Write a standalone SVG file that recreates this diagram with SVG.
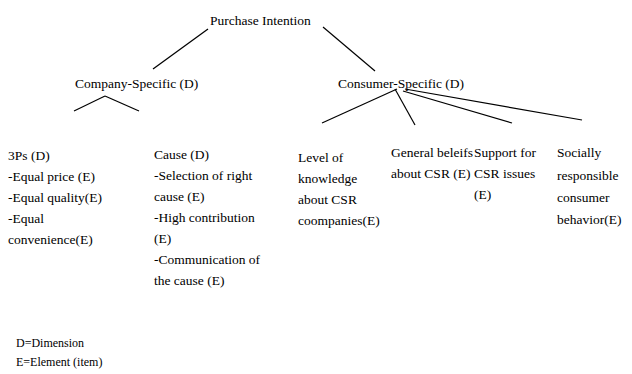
<svg xmlns="http://www.w3.org/2000/svg" width="632" height="374" viewBox="0 0 632 374">
<style>
.t text{font-size:13.5px;fill:#000}
.t .leg{font-size:12px}
.c line{stroke:#000;stroke-width:1.2}
</style>
<rect width="632" height="374" fill="#fff"/>
<g class="c" id="connectors">
<line x1="208" y1="29" x2="153" y2="69"/>
<line x1="323" y1="27" x2="375" y2="71"/>
<line x1="105" y1="96" x2="74" y2="111"/>
<line x1="105" y1="96" x2="139" y2="111"/>
<line x1="397" y1="89" x2="322" y2="123"/>
<line x1="395" y1="89" x2="415" y2="125"/>
<line x1="403" y1="91" x2="512" y2="123"/>
<line x1="405" y1="89" x2="582" y2="120"/>
</g>
<g class="t" font-family="'Liberation Serif', 'Times New Roman', Times, serif">
<g id="purchase"><text x="210" y="25">Purchase Intention</text></g>
<g id="company"><text x="75" y="88">Company-Specific (D)</text></g>
<g id="consumer"><text x="338" y="88">Consumer-Specific (D)</text></g>
<g id="threeps"><text x="8" y="160">3Ps (D)</text><text x="8" y="181">-Equal price (E)</text><text x="8" y="202">-Equal quality(E)</text><text x="8" y="223">-Equal</text><text x="8" y="244">convenience(E)</text></g>
<g id="cause"><text x="154" y="159">Cause (D)</text><text x="154" y="180">-Selection of right</text><text x="154" y="201">cause (E)</text><text x="154" y="222">-High contribution</text><text x="154" y="243">(E)</text><text x="154" y="264">-Communication of</text><text x="154" y="285">the cause (E)</text></g>
<g id="level"><text x="298" y="162">Level of</text><text x="298" y="183">knowledge</text><text x="298" y="204">about CSR</text><text x="298" y="225">coompanies(E)</text></g>
<g id="general"><text x="391" y="157">General beleifs</text><text x="391" y="178">about CSR (E)</text></g>
<g id="support"><text x="474" y="157">Support for</text><text x="474" y="178">CSR issues</text><text x="474" y="199">(E)</text></g>
<g id="socially"><text x="557" y="157">Socially</text><text x="557" y="180">responsible</text><text x="557" y="202">consumer</text><text x="557" y="224">behavior(E)</text></g>
<g id="legend"><text class="leg" x="16" y="347">D=Dimension</text><text class="leg" x="16" y="366">E=Element (item)</text></g>
</g>
</svg>
